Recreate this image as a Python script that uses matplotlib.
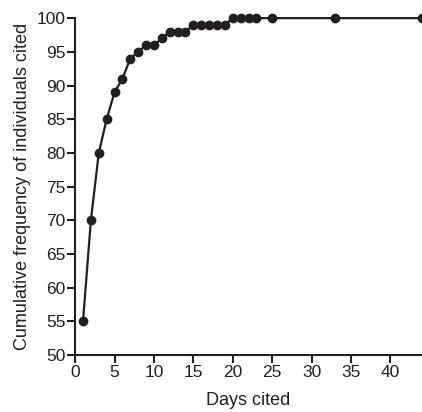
import matplotlib
matplotlib.use('Agg')
import matplotlib.pyplot as plt

plt.rcParams['font.family'] = ['Liberation Sans', 'DejaVu Sans']

# days cited vs cumulative frequency (%)
days = [1, 2, 3, 4, 5, 6, 7, 8, 9, 10, 11, 12, 13, 14, 15, 16, 17, 18, 19,
        20, 21, 22, 23, 25, 33, 44]
cum_freq = [55, 70, 80, 85, 89, 91, 94, 95, 96, 96, 97, 98, 98, 98, 99, 99, 99, 99, 99,
            100, 100, 100, 100, 100, 100, 100]

ink = '#231f20'

fig = plt.figure(figsize=(4.22, 4.12), dpi=100)
ax = fig.add_axes([0.178, 0.138, 0.822, 0.818])

ax.plot(days, cum_freq, color=ink, lw=1.6, marker='o', ms=6, clip_on=False, zorder=3)

ax.set_xlim(0, 44)
ax.set_ylim(50, 100)
ax.set_xticks(range(0, 45, 5))
ax.set_yticks(range(50, 101, 5))

for s in ['top', 'right']:
    ax.spines[s].set_visible(False)
for s in ['left', 'bottom']:
    ax.spines[s].set_linewidth(1.5)
    ax.spines[s].set_color(ink)

ax.tick_params(axis='both', direction='out', length=6, width=1.5, colors=ink,
               labelsize=12.5, pad=1)
ax.set_xlabel('Days cited', fontsize=13, color=ink, labelpad=9)
ax.set_ylabel('Cumulative frequency of individuals cited', fontsize=13, color=ink, labelpad=4)

fig.savefig('out.png', dpi=100)
